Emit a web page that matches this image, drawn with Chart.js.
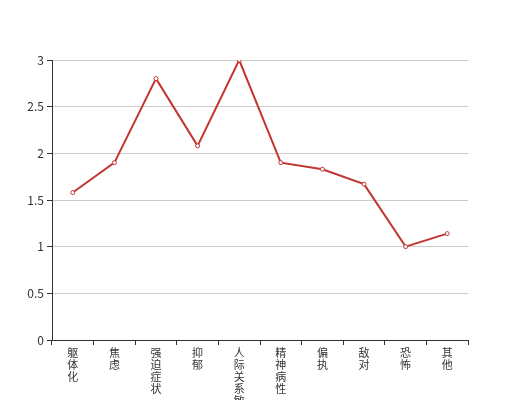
<!DOCTYPE html>
<html>
<head>
<meta charset="utf-8">
<script src="https://cdn.jsdelivr.net/npm/chart.js@4"></script>
<style>
  html, body { margin: 0; padding: 0; background: #fff; }
  #wrap { width: 520px; height: 400px; }
</style>
</head>
<body>
<div id="wrap"><canvas id="chart"></canvas></div>
<script>
// Factor names (drawn vertically, one character per line)
const categories = ['躯体化', '焦虑', '强迫症状', '抑郁', '人际关系敏感', '精神病性', '偏执', '敌对', '恐怖', '其他'];
const scores = [1.58, 1.9, 2.8, 2.08, 3.0, 1.9, 1.83, 1.67, 1.0, 1.14];
const yTicks = [0, 0.5, 1, 1.5, 2, 2.5, 3];

const font = '"Noto Sans CJK SC", "Noto Sans", sans-serif';

new Chart(document.getElementById('chart').getContext('2d'), {
    type: 'line',
    data: {
        labels: categories.map(c => c.split('')),
        datasets: [{
            data: scores,
            borderColor: '#c23531',
            borderWidth: 2,
            backgroundColor: '#ffffff',
            pointBackgroundColor: '#ffffff',
            pointBorderColor: '#c23531',
            pointBorderWidth: 1,
            pointRadius: 2,
            tension: 0
        }]
    },
    options: {
        responsive: true,
        maintainAspectRatio: false,
        animation: false,
        layout: { padding: { top: 60, right: 52, left: 0, bottom: 0 } },
        plugins: { legend: { display: false }, tooltip: { enabled: false } },
        scales: {
            x: {
                offset: true,
                grid: { offset: true, drawOnChartArea: false, tickLength: 5, color: '#333' },
                border: { color: '#333', width: 1 },
                ticks: {
                    autoSkip: false, maxRotation: 0, minRotation: 0, padding: 2,
                    color: '#333', font: { family: font, size: 11, lineHeight: '12px' }
                },
                afterFit: s => { s.height = 60; }
            },
            y: {
                min: 0, max: 3,
                afterBuildTicks: s => { s.ticks = yTicks.map(v => ({ value: v })); },
                grid: { color: '#ccc', tickColor: '#333', tickLength: 5 },
                border: { color: '#333', width: 1 },
                ticks: {
                    color: '#333', padding: 3, font: { family: font, size: 12 },
                    callback: v => String(v)
                },
                afterFit: s => { s.width = 52; }
            }
        }
    }
});
</script>
</body>
</html>
